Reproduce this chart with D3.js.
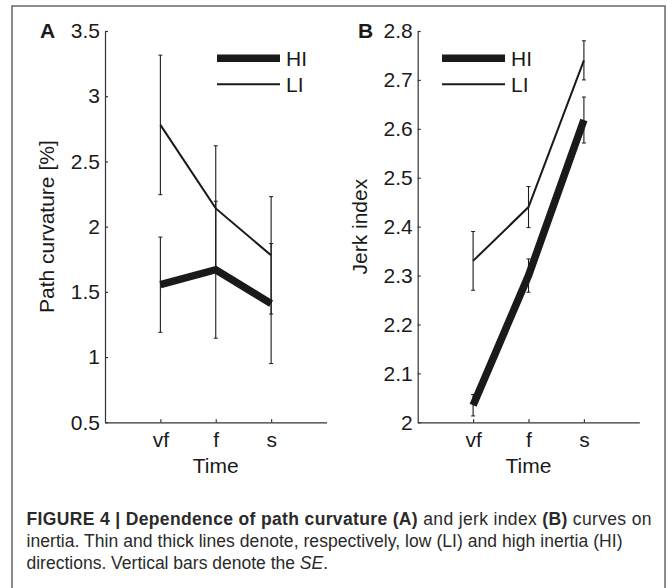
<!DOCTYPE html>
<html>
<head>
<meta charset="utf-8">
<script src="https://cdn.jsdelivr.net/npm/d3@7"></script>
<style>
  html, body { margin: 0; padding: 0; background: #fff; }
  svg { display: block; }
  text { font-family: "Liberation Sans", Arial, Helvetica, sans-serif; }
</style>
</head>
<body>
<svg id="fig" width="668" height="588"></svg>
<script>
// ---------- data ----------
const categories = ["vf", "f", "s"];
const seriesNames = ["HI", "LI"];

const curvHI   = [1.555, 1.67, 1.41];
const curvHIse = [0.365, 0.525, 0.46];
const curvLI   = [2.78, 2.14, 1.78];
const curvLIse = [0.535, 0.48, 0.45];

const jerkHI   = [2.035, 2.30, 2.618];
const jerkHIse = [0.022, 0.034, 0.047];
const jerkLI   = [2.33, 2.44, 2.74];
const jerkLIse = [0.06, 0.042, 0.04];

const curvTicks = [0.5, 1, 1.5, 2, 2.5, 3, 3.5];
const jerkTicks = [2, 2.1, 2.2, 2.3, 2.4, 2.5, 2.6, 2.7, 2.8];

// ---------- drawing ----------
const svg = d3.select("#fig");
const ink = "#1a1a1a";
const FS = "21px";

// outer frame (open at bottom)
svg.append("path")
  .attr("d", "M12,588 L12,6 L665,6 L665,588")
  .attr("fill", "none").attr("stroke", "#666").attr("stroke-width", 1.5);

function panel(opt) {
  const g = svg.append("g").attr("transform", `translate(${opt.left},${opt.top})`);
  const W = opt.width, H = opt.height;
  const x = d3.scalePoint().domain(categories).range([0, W]).padding(1);
  const y = d3.scaleLinear().domain(opt.domain).range([H, 0]);

  const yAx = g.append("g")
    .call(d3.axisLeft(y).tickValues(opt.ticks).tickFormat(d3.format("")).tickSizeInner(-3).tickSizeOuter(0).tickPadding(5));
  const xAx = g.append("g").attr("transform", `translate(0,${H})`)
    .call(d3.axisBottom(x).tickSizeInner(-3).tickSizeOuter(0).tickPadding(10));
  [yAx, xAx].forEach(a => {
    a.select(".domain").attr("stroke", "#333").attr("stroke-width", 1.2);
    a.selectAll(".tick line").attr("stroke", "#333").attr("stroke-width", 1.2);
    a.selectAll(".tick text").attr("fill", ink).style("font-size", FS)
      .style("font-family", "'Liberation Sans', Arial, sans-serif");
  });

  // error bars
  const bars = [
    { v: opt.hi, se: opt.hiSe },
    { v: opt.li, se: opt.liSe }
  ];
  bars.forEach(b => {
    categories.forEach((c, i) => {
      const cx = x(c);
      g.append("line")
        .attr("x1", cx).attr("x2", cx)
        .attr("y1", y(b.v[i] - b.se[i])).attr("y2", y(b.v[i] + b.se[i]))
        .attr("stroke", ink).attr("stroke-width", 1.1);
      [b.v[i] - b.se[i], b.v[i] + b.se[i]].forEach(e => {
        g.append("line")
          .attr("x1", cx - 2).attr("x2", cx + 2)
          .attr("y1", y(e)).attr("y2", y(e))
          .attr("stroke", ink).attr("stroke-width", 1);
      });
    });
  });

  const line = d3.line().x((d, i) => x(categories[i])).y(d => y(d));
  g.append("path").datum(opt.li).attr("d", line)
    .attr("fill", "none").attr("stroke", ink).attr("stroke-width", 2);
  g.append("path").datum(opt.hi).attr("d", line)
    .attr("fill", "none").attr("stroke", ink).attr("stroke-width", 7.5);

  // legend
  const lg = svg.append("g");
  [[7.5, opt.legY[0]], [2, opt.legY[1]]].forEach((d, i) => {
    lg.append("line")
      .attr("x1", opt.legX[0]).attr("x2", opt.legX[1])
      .attr("y1", d[1]).attr("y2", d[1])
      .attr("stroke", ink).attr("stroke-width", d[0]);
    lg.append("text")
      .attr("x", opt.legX[1] + 6).attr("y", d[1] + 7.5)
      .style("font-size", FS).attr("fill", ink)
      .text(seriesNames[i]);
  });

  // panel letter
  svg.append("text").attr("x", opt.letterX).attr("y", 38)
    .style("font-size", FS).style("font-weight", "bold").attr("fill", ink)
    .text(opt.letter);

  // axis titles
  svg.append("text")
    .attr("transform", `translate(${opt.ylabX},${opt.top + H / 2}) rotate(-90)`)
    .attr("text-anchor", "middle").style("font-size", FS).attr("fill", ink)
    .text(opt.ylab);
  svg.append("text")
    .attr("x", opt.left + W / 2).attr("y", 473)
    .attr("text-anchor", "middle").style("font-size", FS).attr("fill", ink)
    .text("Time");
}

panel({
  left: 105, top: 31, width: 221.5, height: 391.3,
  domain: [0.5, 3.5], ticks: curvTicks,
  hi: curvHI, hiSe: curvHIse, li: curvLI, liSe: curvLIse,
  legX: [217, 280], legY: [58.3, 84.3],
  letter: "A", letterX: 40,
  ylab: "Path curvature [%]", ylabX: 54
});
panel({
  left: 417.7, top: 31, width: 221.6, height: 391.3,
  domain: [2, 2.8], ticks: jerkTicks,
  hi: jerkHI, hiSe: jerkHIse, li: jerkLI, liSe: jerkLIse,
  legX: [442, 505], legY: [58.3, 84.3],
  letter: "B", letterX: 358,
  ylab: "Jerk index", ylabX: 367
});

// caption
const cap = svg.append("g").attr("fill", "#2a2a2a").style("font-size", "17.5px");
const capLines = [
  [["FIGURE 4 | Dependence of path curvature (A)", "b"], [" and jerk index ", ""], ["(B)", "b"], [" curves on", ""]],
  [["inertia. Thin and thick lines denote, respectively, low (LI) and high inertia (HI)", ""]],
  [["directions. Vertical bars denote the ", ""], ["SE", "i"], [".", ""]]
];
const capY = [525, 547, 569];
const capLen = [625, 596, null];
capLines.forEach((ln, i) => {
  const t = cap.append("text").attr("x", 26.5).attr("y", capY[i]);
  if (capLen[i]) t.attr("textLength", capLen[i]).attr("lengthAdjust", "spacing");
  ln.forEach(s => {
    const sp = t.append("tspan").text(s[0]);
    if (s[1] === "b") sp.style("font-weight", "bold");
    if (s[1] === "i") sp.style("font-style", "italic");
  });
});
</script>
</body>
</html>
